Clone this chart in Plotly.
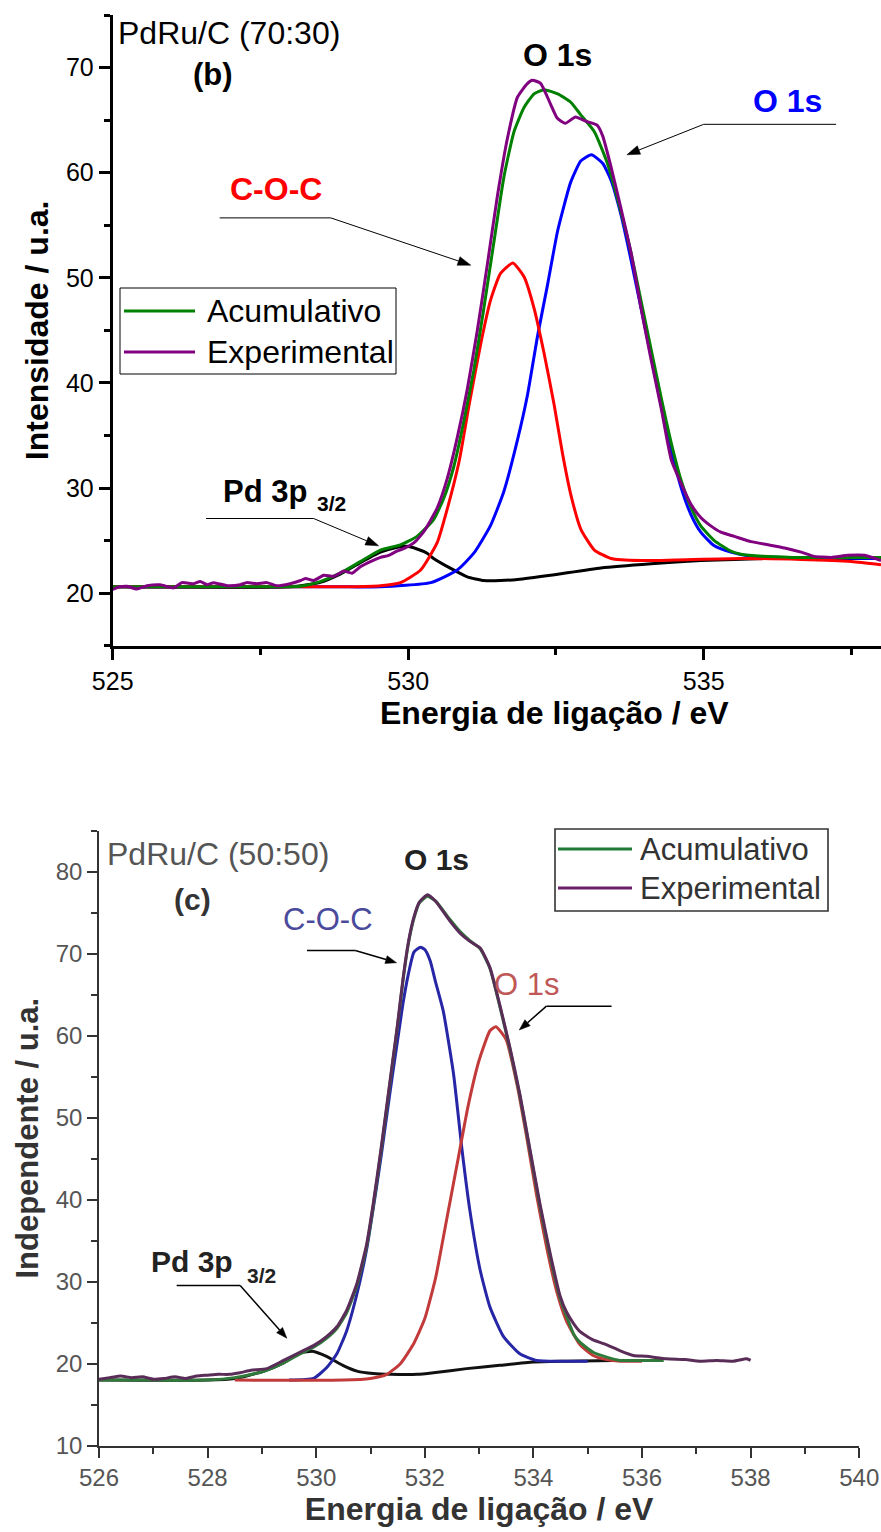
import math
import plotly.graph_objects as go

W, H = 881, 1532
FONT = "Liberation Sans, Arial, sans-serif"

# ---------------- panel (b): PdRu/C (70:30) ----------------
b_acum_x = [525.0, 526.0, 527.0, 527.8, 528.18, 528.51, 528.85, 529.19, 529.53, 529.87, 530.15,
            530.43, 530.6, 530.77, 530.94, 531.11, 531.28, 531.45, 531.62, 531.79, 531.96, 532.13,
            532.3, 532.53, 532.75, 532.92, 533.15, 533.37, 533.6, 533.77, 533.94, 534.11, 534.28,
            534.45, 534.62, 534.79, 534.95, 535.18, 535.46, 535.63, 536.0, 536.5, 537.0, 537.5, 538.0]
b_acum_y = [20.6, 20.6, 20.6, 20.6, 20.65, 21.1, 21.9, 23.0, 24.1, 24.6, 25.4,
            27.0, 29.0, 32.0, 36.3, 41.2, 47.1, 53.4, 59.6, 63.9, 66.2, 67.5,
            67.9, 67.5, 66.7, 65.5, 63.9, 60.9, 56.3, 52.4, 47.8, 43.2, 38.6,
            34.3, 30.7, 28.1, 26.4, 25.0, 24.0, 23.7, 23.5, 23.4, 23.4, 23.4, 23.4]

b_exp_x = [525.0, 525.12, 525.24, 525.41, 525.58, 525.8, 526.03, 526.17, 526.37, 526.48, 526.6,
           526.71, 526.94, 527.16, 527.27, 527.44, 527.61, 527.78, 528.0, 528.18, 528.26, 528.4,
           528.57, 528.74, 528.91, 529.05, 529.19, 529.36, 529.53, 529.67, 529.81, 529.95, 530.1,
           530.27, 530.49, 530.66, 530.83, 531.0, 531.17, 531.34, 531.51, 531.68, 531.85, 532.02,
           532.1, 532.24, 532.41, 532.52, 532.66, 532.83, 533.0, 533.2, 533.29, 533.43, 533.6,
           533.77, 533.94, 534.11, 534.28, 534.45, 534.62, 534.79, 534.95, 535.12, 535.29, 535.52,
           535.8, 536.09, 536.37, 536.65, 536.87, 537.16, 537.44, 537.72, 538.0]
b_exp_y = [20.35, 20.6, 20.65, 20.4, 20.7, 20.8, 20.5, 21.0, 20.9, 21.1, 20.8,
           21.0, 20.7, 20.8, 21.0, 20.9, 21.0, 20.7, 20.9, 21.2, 21.4, 21.2,
           21.7, 21.6, 22.1, 21.9, 22.5, 23.0, 23.4, 23.6, 24.0, 24.3, 24.8,
           25.9, 28.1, 30.9, 34.8, 39.4, 45.0, 51.3, 57.8, 63.3, 67.2, 68.5,
           68.8, 68.5, 66.5, 65.2, 64.7, 65.3, 64.9, 64.5, 63.5, 60.6, 56.6,
           52.4, 47.1, 42.2, 37.6, 32.7, 30.4, 28.4, 27.2, 26.4, 25.8, 25.4,
           24.9, 24.6, 24.3, 23.9, 23.5, 23.4, 23.6, 23.6, 23.1]

b_o1s_x = [525.0, 529.0, 529.53, 530.38, 530.83, 531.11, 531.39, 531.62, 531.85, 532.02, 532.19,
           532.36, 532.53, 532.75, 532.92, 533.1, 533.29, 533.43, 533.6, 533.77, 533.94, 534.11,
           534.28, 534.45, 534.62, 534.79, 534.95, 535.18, 535.46, 535.8, 536.3, 537.0, 538.0]
b_o1s_y = [20.6, 20.6, 20.6, 21.0, 22.2, 23.8, 26.4, 29.7, 34.6, 38.9, 44.5,
           49.4, 54.5, 59.1, 61.1, 61.7, 60.9, 59.3, 56.0, 51.7, 47.1, 42.5,
           37.9, 33.6, 30.0, 27.4, 25.8, 24.5, 23.9, 23.5, 23.4, 23.35, 23.3]

b_coc_x = [525.0, 529.0, 529.53, 529.87, 530.21, 530.49, 530.66, 530.86, 531.03, 531.23, 531.39,
           531.56, 531.77, 531.96, 532.13, 532.3, 532.47, 532.61, 532.75, 532.92, 533.15, 533.43,
           533.94, 534.5, 535.63, 536.65, 537.5, 538.0]
b_coc_y = [20.6, 20.6, 20.7, 21.0, 22.2, 24.8, 28.0, 32.5, 37.9, 43.8, 47.8,
           50.4, 51.4, 50.1, 47.1, 42.8, 37.9, 33.3, 29.4, 26.1, 24.1, 23.3,
           23.1, 23.15, 23.3, 23.2, 23.0, 22.7]

b_pd_x = [525.0, 528.0, 528.5, 528.85, 529.19, 529.53, 529.8, 529.97, 530.15, 530.32, 530.43,
          530.72, 531.0, 531.28, 531.56, 531.85, 532.41, 533.26, 534.11, 534.95, 536.09, 537.0,
          538.0]
b_pd_y = [20.6, 20.6, 21.0, 21.8, 22.9, 23.9, 24.35, 24.45, 24.2, 23.8, 23.3,
          22.35, 21.55, 21.2, 21.2, 21.3, 21.7, 22.4, 22.8, 23.1, 23.3, 23.3,
          23.3]

b_xticks = [525, 530, 535]
b_yticks = [20, 30, 40, 50, 60, 70]

# ---------------- panel (c): PdRu/C (50:50) ----------------
c_acum_x = [526.0, 527.0, 528.0, 528.5, 529.0, 529.4, 529.7, 529.95, 530.19, 530.38, 530.56,
            530.75, 530.93, 531.05, 531.2, 531.3, 531.4, 531.5, 531.6, 531.7, 531.8, 531.9,
            532.05, 532.2, 532.46, 532.65, 532.83, 533.02, 533.2, 533.38, 533.57, 533.75, 533.94,
            534.12, 534.31, 534.49, 534.61, 534.75, 534.86, 535.1, 535.35, 535.59, 535.84, 536.1, 536.4]
c_acum_y = [18.0, 18.0, 18.0, 18.3, 19.0, 20.1, 21.2, 22.0, 23.1, 24.3, 26.2,
            29.5, 34.3, 39.2, 46.2, 51.2, 56.3, 61.3, 66.8, 71.3, 74.3, 76.2,
            77.0, 76.4, 74.2, 72.7, 71.6, 70.6, 68.2, 63.6, 58.3, 52.7, 45.8,
            39.2, 33.0, 28.0, 25.8, 23.5, 22.6, 21.4, 20.8, 20.4, 20.4, 20.4, 20.4]

c_exp_x = [526.0, 526.2, 526.4, 526.6, 526.8, 527.0, 527.2, 527.4, 527.6, 527.8, 528.0,
           528.2, 528.4, 528.6, 528.8, 529.09, 529.4, 529.7, 529.95, 530.19, 530.38, 530.56,
           530.75, 530.93, 531.05, 531.2, 531.3, 531.4, 531.5, 531.6, 531.7, 531.8, 531.9,
           532.05, 532.2, 532.46, 532.65, 532.83, 533.02, 533.2, 533.38, 533.57, 533.75, 533.94,
           534.12, 534.31, 534.49, 534.61, 534.75, 534.86, 535.1, 535.35, 535.59, 535.84, 536.08,
           536.45, 536.8, 537.07, 537.38, 537.68, 537.93, 538.0]
c_exp_y = [18.1, 18.3, 18.5, 18.3, 18.4, 18.1, 18.2, 18.4, 18.2, 18.5, 18.6,
           18.7, 18.7, 18.9, 19.2, 19.4, 20.4, 21.4, 22.2, 23.3, 24.5, 26.5,
           29.8, 34.6, 39.5, 46.5, 51.5, 56.5, 61.5, 67.0, 71.5, 74.5, 76.3,
           77.2, 76.4, 74.0, 72.5, 71.5, 70.7, 68.3, 63.8, 58.5, 52.9, 46.0,
           39.5, 33.4, 28.3, 26.3, 24.8, 23.9, 22.9, 22.3, 21.6, 21.0, 20.9,
           20.6, 20.5, 20.3, 20.4, 20.3, 20.6, 20.4]

c_coc_x = [529.5, 529.95, 530.19, 530.38, 530.56, 530.75, 530.93, 531.11, 531.2, 531.3, 531.4,
           531.5, 531.6, 531.7, 531.8, 531.92, 532.0, 532.1, 532.2, 532.34, 532.53, 532.68,
           532.83, 533.02, 533.2, 533.45, 533.75, 534.06, 534.5, 535.0]
c_coc_y = [18.0, 18.2, 19.5, 21.2, 24.0, 28.5, 34.0, 41.5, 45.5, 50.3, 55.0,
           59.5, 64.0, 67.6, 70.2, 70.8, 70.5, 69.1, 66.5, 63.0, 55.3, 46.4,
           38.7, 31.4, 26.9, 23.3, 21.2, 20.4, 20.3, 20.3]

c_o1s_x = [528.5, 530.5, 531.0, 531.3, 531.55, 531.8, 532.0, 532.2, 532.4, 532.6, 532.8,
           533.0, 533.2, 533.31, 533.5, 533.7, 533.88, 534.06, 534.25, 534.43, 534.61, 534.86,
           535.1, 535.35, 535.6, 536.0]
c_o1s_y = [18.0, 18.0, 18.2, 18.7, 20.0, 22.5, 25.5, 30.5, 37.5, 44.5, 51.5,
           57.0, 60.6, 61.1, 59.5, 54.0, 47.5, 40.5, 34.0, 28.8, 25.2, 22.3,
           21.0, 20.5, 20.3, 20.3]

c_pd_x = [526.0, 528.0, 528.5, 529.0, 529.4, 529.7, 529.95, 530.19, 530.49, 530.75, 531.05,
          531.37, 531.86, 532.16, 532.77, 533.38, 534.0, 534.61, 535.47]
c_pd_y = [18.0, 18.0, 18.2, 19.0, 20.1, 21.3, 21.5, 20.9, 19.8, 19.1, 18.8,
          18.7, 18.7, 18.9, 19.4, 19.8, 20.2, 20.3, 20.4]

c_xticks = [526, 528, 530, 532, 534, 536, 538, 540]
c_yticks = [10, 20, 30, 40, 50, 60, 70, 80]

# plot-area geometry in pixels (left, right, top, bottom) and axis ranges
B_BOX = (112.7, 881.0, 15.0, 645.7)
B_XR, B_YR = (525, 538), (15, 75)
C_BOX = (99.0, 859.2, 830.7, 1445.7)
C_XR, C_YR = (526, 540), (10, 85)


def X(px):
    return px / W


def Y(py):
    return 1 - py / H


def to_px(x, y, box, xr, yr):
    l, r, t, b = box
    px = l + (x - xr[0]) / (xr[1] - xr[0]) * (r - l)
    py = b - (y - yr[0]) / (yr[1] - yr[0]) * (b - t)
    return px, py


fig = go.Figure()


def add_line(x, y, color, width, xa, ya):
    fig.add_trace(go.Scatter(x=x, y=y, mode="lines", xaxis=xa, yaxis=ya,
                             line=dict(color=color, width=width, shape="spline", smoothing=0.5),
                             showlegend=False, hoverinfo="skip"))


# panel (b) traces
add_line(b_pd_x, b_pd_y, "#000000", 3, "x", "y")
add_line(b_o1s_x, b_o1s_y, "#0000ff", 3, "x", "y")
add_line(b_coc_x, b_coc_y, "#ff0000", 3, "x", "y")
add_line(b_acum_x, b_acum_y, "#008000", 3, "x", "y")
add_line(b_exp_x, b_exp_y, "#800080", 3, "x", "y")

# panel (c) traces
add_line(c_pd_x, c_pd_y, "#111111", 3, "x2", "y2")
add_line(c_coc_x, c_coc_y, "#2626a6", 3, "x2", "y2")
add_line(c_o1s_x, c_o1s_y, "#c23a3a", 3, "x2", "y2")
add_line(c_acum_x, c_acum_y, "#2f7a3a", 3, "x2", "y2")
add_line(c_exp_x, c_exp_y, "#5a2d58", 3, "x2", "y2")

axis_b = dict(showline=True, linecolor="black", linewidth=3, ticks="outside", ticklen=11,
              tickwidth=3, tickcolor="black", showgrid=False, zeroline=False, automargin=False,
              tickfont=dict(family=FONT, size=25, color="black"))
axis_c = dict(showline=True, linecolor="#333333", linewidth=1.6, ticks="outside", ticklen=10,
              tickwidth=1.6, tickcolor="#333333", showgrid=False, zeroline=False, automargin=False,
              tickfont=dict(family=FONT, size=24, color="#555555"))

title_b = dict(family=FONT, size=32, color="black")
title_c = dict(family=FONT, size=32, color="#333333")

fig.update_layout(
    width=W, height=H,
    margin=dict(l=0, r=0, t=0, b=0, autoexpand=False),
    paper_bgcolor="white", plot_bgcolor="white",
    showlegend=False,
    xaxis=dict(axis_b, domain=[X(B_BOX[0]), X(B_BOX[1])], range=list(B_XR), tickvals=b_xticks,
               anchor="y",
               minor=dict(dtick=2.5, tick0=525, ticks="outside", ticklen=6,
                          tickwidth=3, tickcolor="black")),
    yaxis=dict(axis_b, domain=[Y(B_BOX[3]), Y(B_BOX[2])], range=list(B_YR), tickvals=b_yticks,
               anchor="x",
               title=dict(text="<b>Intensidade / u.a.</b>", font=title_b, standoff=8),
               minor=dict(dtick=5, tick0=15, ticks="outside", ticklen=6,
                          tickwidth=3, tickcolor="black")),
    xaxis2=dict(axis_c, domain=[X(C_BOX[0]), X(C_BOX[1])], range=list(C_XR), tickvals=c_xticks,
                anchor="y2",
                title=dict(text="<b>Energia de ligação / eV</b>", font=title_c, standoff=2),
                minor=dict(dtick=1, tick0=526, ticks="outside", ticklen=6,
                           tickwidth=1.6, tickcolor="#333333")),
    yaxis2=dict(axis_c, domain=[Y(C_BOX[3]), Y(C_BOX[2])], range=list(C_YR), tickvals=c_yticks,
                anchor="x2",
                title=dict(text="<b>Independente / u.a.</b>", font=dict(title_c, size=31),
                           standoff=8),
                minor=dict(dtick=5, tick0=10, ticks="outside", ticklen=6,
                           tickwidth=1.6, tickcolor="#333333")),
)

ann = []
shapes = []


def text(x, y, s, size=32, color="black", bold=False, xref="x", yref="y",
         xanchor="center", yanchor="middle", angle=0):
    if bold:
        s = "<b>" + s + "</b>"
    ann.append(dict(x=x, y=y, xref=xref, yref=yref, text=s, showarrow=False,
                    xanchor=xanchor, yanchor=yanchor, textangle=angle,
                    font=dict(family=FONT, size=size, color=color)))


def leader(x0, x1, yl, tipx, tipy, tail, panel, color="black", width=1.0,
           head_len=13, head_w=4.5):
    """Horizontal rule under a label, then an arrow from its end to the curve."""
    box, xr, yr, xref, yref = panel
    shapes.append(dict(type="line", xref=xref, yref=yref, x0=x0, x1=x1, y0=yl, y1=yl,
                       line=dict(color=color, width=width)))
    sx, sy = to_px(tail, yl, box, xr, yr)
    tx, ty = to_px(tipx, tipy, box, xr, yr)
    dx, dy = tx - sx, ty - sy
    n = math.hypot(dx, dy)
    ux, uy = dx / n, dy / n
    bx, by = tx - head_len * ux, ty - head_len * uy
    shapes.append(dict(type="line", xref="paper", yref="paper", x0=X(sx), y0=Y(sy),
                       x1=X(bx), y1=Y(by), line=dict(color=color, width=width)))
    p1 = (bx + head_w * uy, by - head_w * ux)
    p2 = (bx - head_w * uy, by + head_w * ux)
    path = "M {:.5f},{:.5f} L {:.5f},{:.5f} L {:.5f},{:.5f} Z".format(
        X(tx), Y(ty), X(p1[0]), Y(p1[1]), X(p2[0]), Y(p2[1]))
    shapes.append(dict(type="path", xref="paper", yref="paper", path=path,
                       fillcolor=color, line=dict(color=color, width=0.5)))


PB = (B_BOX, B_XR, B_YR, "x", "y")
PC = (C_BOX, C_XR, C_YR, "x2", "y2")

# ---- panel (b) labels ----
text(526.97, 73.3, "PdRu/C (70:30)", size=32)
text(526.69, 69.3, "(b)", size=31, bold=True)
text(532.52, 71.2, "O 1s", size=32, bold=True)
text(536.42, 66.8, "O 1s", size=32, color="#0000ff", bold=True)
leader(535.0, 537.24, 64.6, 533.70, 61.7, 535.0, PB)
text(527.76, 58.4, "C-O-C", size=32, color="#ff0000", bold=True)
leader(526.81, 528.69, 55.7, 531.06, 51.2, 528.69, PB)
text(527.57, 29.7, "Pd 3p", size=31, bold=True)
text(528.71, 28.5, "3/2", size=21, bold=True)
leader(526.58, 528.40, 27.1, 529.50, 24.5, 528.40, PB)

# legend (b)
shapes.append(dict(type="rect", xref="paper", yref="paper", x0=X(120), x1=X(396),
                   y0=Y(374), y1=Y(288), line=dict(color="black", width=1),
                   fillcolor="white", layer="below"))
for py, col, lab in [(311, "#008000", "Acumulativo"), (352, "#800080", "Experimental")]:
    shapes.append(dict(type="line", xref="paper", yref="paper", x0=X(124), x1=X(195),
                       y0=Y(py), y1=Y(py), line=dict(color=col, width=3)))
    text(X(205), Y(py), lab, size=32, xref="paper", yref="paper", xanchor="left")

# x-axis title (b): centred on the full axis, which runs past the right edge
text(X(554), Y(713), "Energia de ligação / eV", size=32, bold=True,
     xref="paper", yref="paper")

# ---- panel (c) labels ----
text(528.19, 82.2, "PdRu/C (50:50)", size=32, color="#555555", xref="x2", yref="y2")
text(527.73, 76.6, "(c)", size=30, bold=True, color="#333333", xref="x2", yref="y2")
text(532.21, 81.5, "O 1s", size=30, bold=True, color="#222222", xref="x2", yref="y2")
text(530.22, 74.2, "C-O-C", size=31, color="#4a4a9c", xref="x2", yref="y2")
leader(529.83, 530.72, 70.4, 531.48, 68.9, 530.72, PC, width=1.5, head_len=11, head_w=4)
text(533.88, 66.2, "O 1s", size=31, color="#c05858", xref="x2", yref="y2")
leader(534.24, 535.44, 63.6, 533.74, 60.7, 534.24, PC, width=1.5, head_len=11, head_w=4)
text(527.72, 32.5, "Pd 3p", size=30, bold=True, color="#222222", xref="x2", yref="y2")
text(529.0, 30.8, "3/2", size=21, bold=True, color="#222222", xref="x2", yref="y2")
leader(527.43, 528.60, 29.55, 529.46, 23.1, 528.60, PC, width=1.5, head_len=11, head_w=4)

# legend (c)
shapes.append(dict(type="rect", xref="paper", yref="paper", x0=X(555), x1=X(828),
                   y0=Y(911), y1=Y(829), line=dict(color="#333333", width=1.6),
                   fillcolor="white", layer="below"))
for py, col, lab in [(849, "#1f7a35", "Acumulativo"), (888, "#6a1f68", "Experimental")]:
    shapes.append(dict(type="line", xref="paper", yref="paper", x0=X(558), x1=X(632),
                       y0=Y(py), y1=Y(py), line=dict(color=col, width=3)))
    text(X(638), Y(py), lab, size=31, color="#333333", xref="paper", yref="paper",
         xanchor="left")

fig.update_layout(annotations=ann, shapes=shapes)
fig.write_html("out.html")
